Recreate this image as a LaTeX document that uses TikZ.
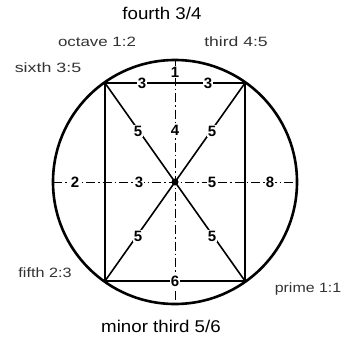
\documentclass[tikz,border=0pt]{standalone}
\usepackage{fontspec}
\setmainfont{Liberation Sans}
\newcommand{\stretchtxt}[2]{\scalebox{#1}[1]{#2}}
\begin{document}
\begin{tikzpicture}[x=1pt,y=-1pt,
  bigtxt/.style={font=\fontsize{17}{20}\selectfont, inner sep=0pt},
  smalltxt/.style={font=\fontsize{13.5}{15}\selectfont, text=black!80, inner sep=0pt},
  num/.style={font=\bfseries\fontsize{15}{17}\selectfont, fill=white, inner sep=1.2pt},
  rim/.style={line width=2.6pt},
  chord/.style={line width=1.6pt},
  side/.style={line width=1.2pt},
  axis/.style={line width=1pt, dash pattern=on 9pt off 3pt on 1.5pt off 3pt}]
\useasboundingbox (0,0) rectangle (353,337);
\coordinate (O) at (175,182);
\coordinate (TL) at (105,83);
\coordinate (TR) at (245,83);
\coordinate (BL) at (105,281);
\coordinate (BR) at (245,281);
\coordinate (L) at (53,182);
\coordinate (R) at (297,182);
\coordinate (T) at (175,60);
\coordinate (B) at (175,304);
% axes
\draw[axis] (L) -- (R);
\draw[axis] (T) -- (B);
% rectangle
\draw[chord] (TL) -- (TR);
\draw[chord] (BL) -- (BR);
\draw[side] (TL) -- (BL);
\draw[side] (TR) -- (BR);
% diagonals
\draw[chord] (TL) -- (BR);
\draw[chord] (TR) -- (BL);
% circle
\draw[rim] (O) circle (122pt);
\fill (O) circle (3.5pt);
% numbers
\node[num] (n1) at (175,72) {1};
\node[num] (n3a) at (142,83) {3};
\node[num] (n3b) at (208,83) {3};
\node[num] (n5a) at (138,131) {5};
\node[num] (n4) at (175,130) {4};
\node[num] (n5b) at (212,131) {5};
\node[num] (n2) at (75,182) {2};
\node[num] (n3c) at (139,182) {3};
\node[num] (n5c) at (212,182) {5};
\node[num] (n8) at (270,182) {8};
\node[num] (n5d) at (138,236) {5};
\node[num] (n5e) at (212,236) {5};
\node[num] (n6) at (175,281) {6};
% labels
\node[bigtxt] (fourth) at (162,13) {\stretchtxt{1.1}{fourth 3/4}};
\node[bigtxt] (minor) at (161,326) {\stretchtxt{1.1}{minor third 5/6}};
\node[smalltxt] (octave) at (97,42) {\stretchtxt{1.25}{octave 1:2}};
\node[smalltxt] (third) at (236,42) {\stretchtxt{1.3}{third 4:5}};
\node[smalltxt] (sixth) at (48,68) {\stretchtxt{1.32}{sixth 3:5}};
\node[smalltxt] (fifth) at (45,273) {\stretchtxt{1.2}{fifth 2:3}};
\node[smalltxt] (prime) at (308,289) {\stretchtxt{1.18}{prime 1:1}};
\end{tikzpicture}
\end{document}
